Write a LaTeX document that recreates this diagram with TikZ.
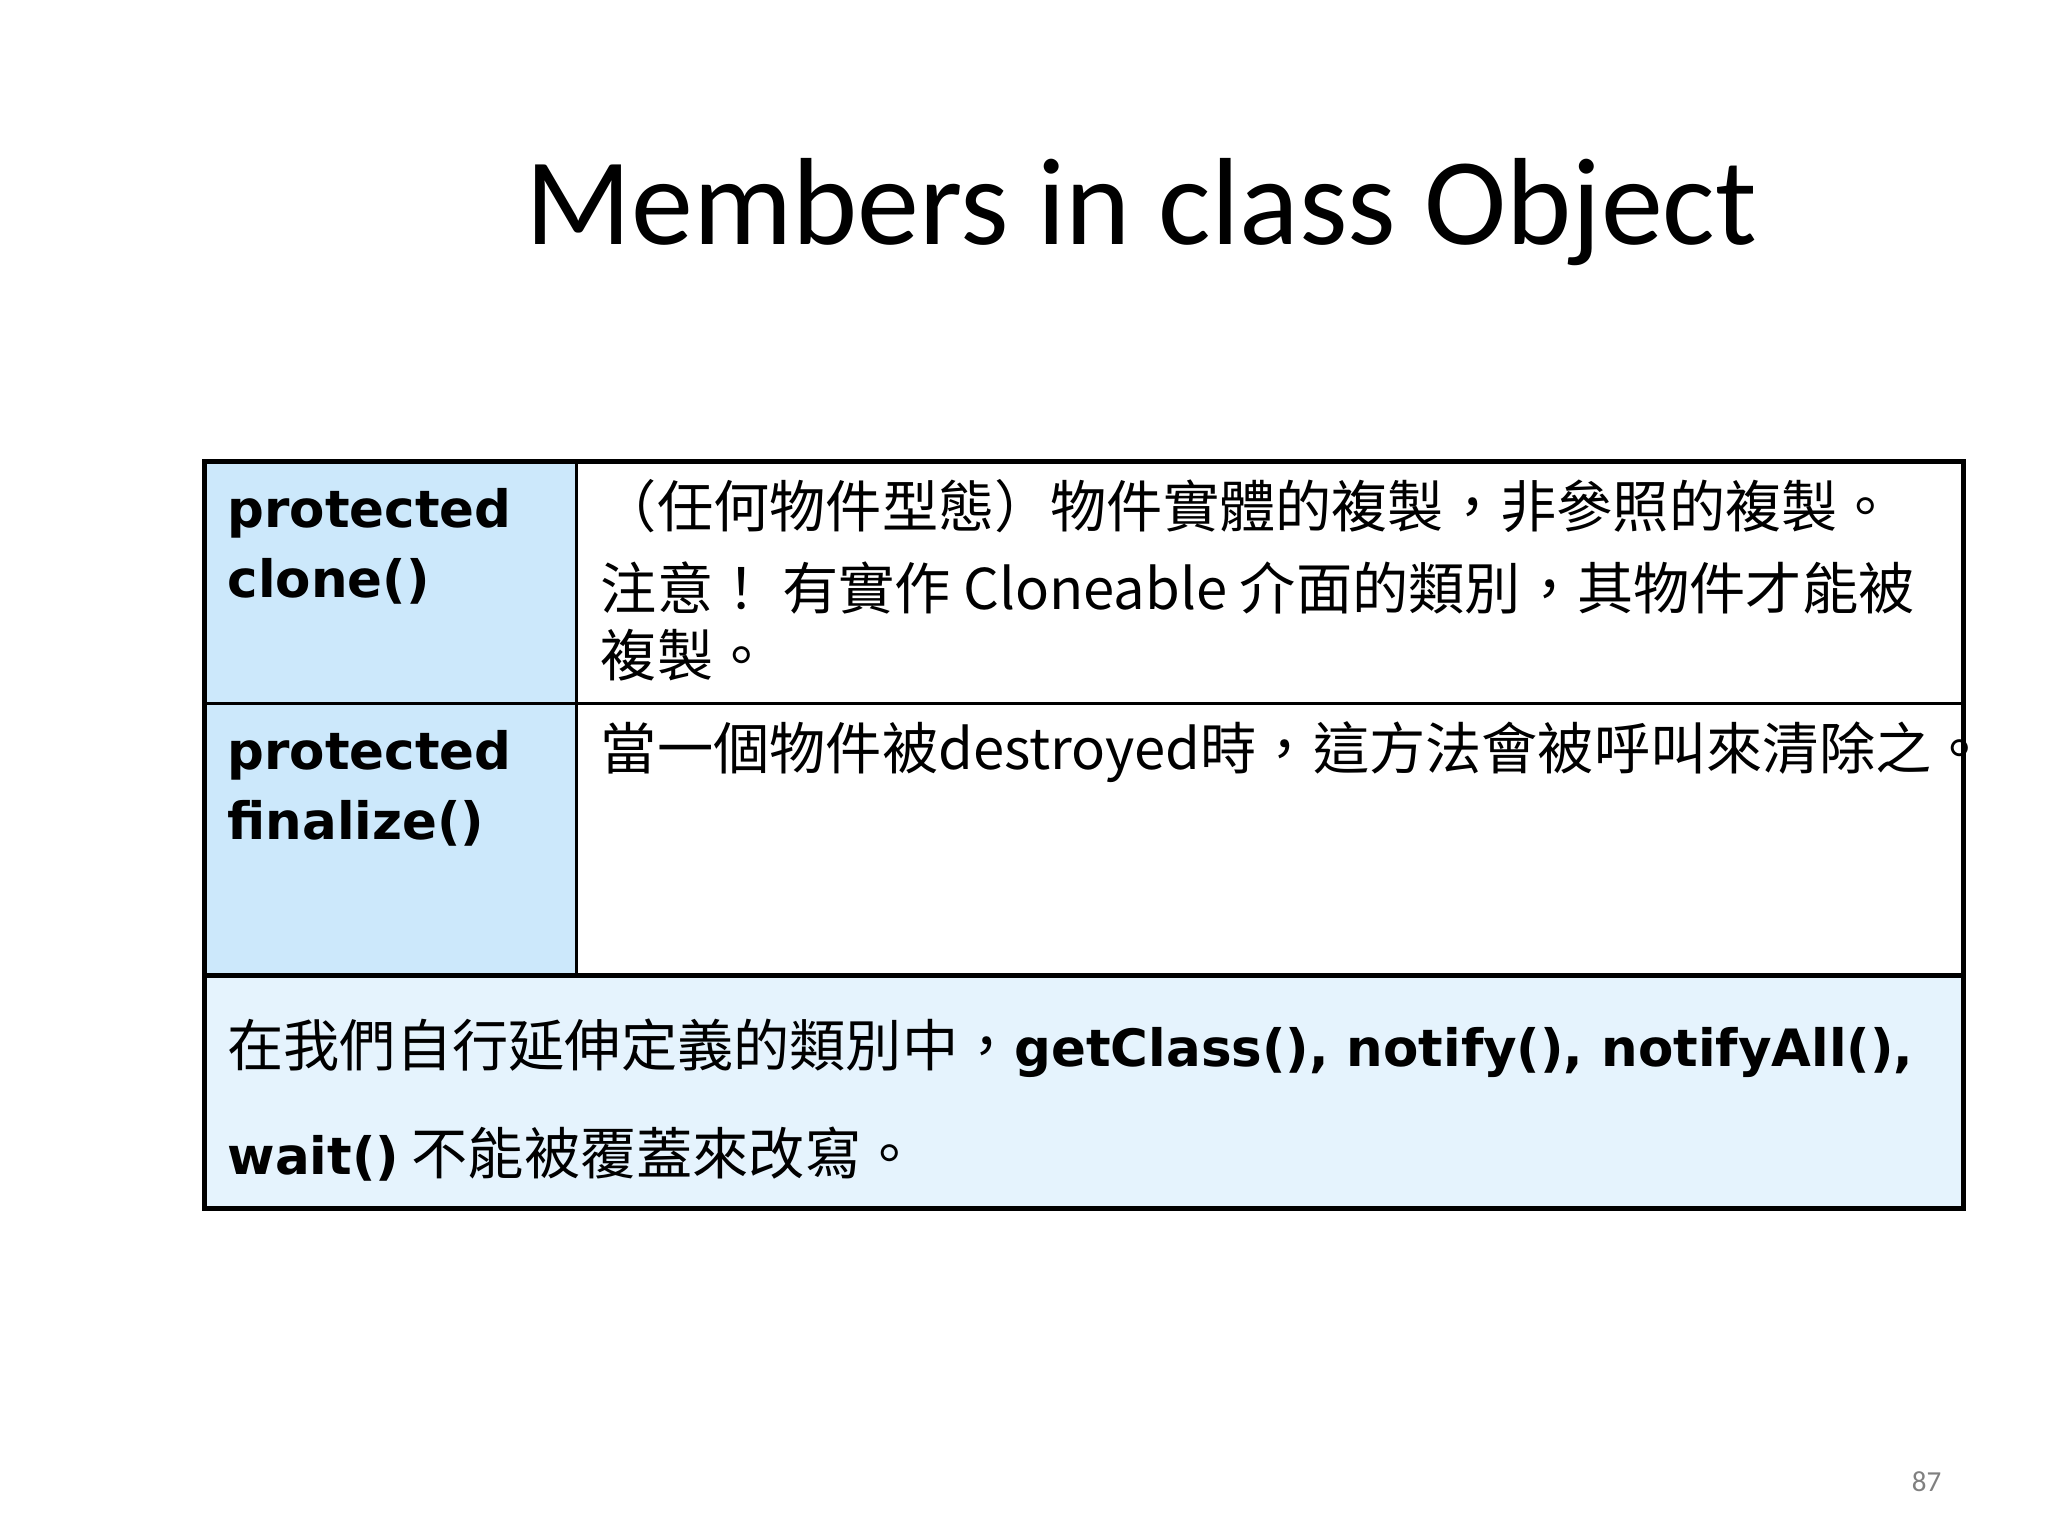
\documentclass[tikz,border=0pt]{standalone}
\usepackage{fontspec}
\setmainfont{Carlito}
\newfontfamily\cjk{Noto Sans CJK TC}
\newfontfamily\arb{DejaVu Sans}
\definecolor{cellblue}{HTML}{CCE8FB}
\definecolor{cellpale}{HTML}{E5F3FD}
\newcommand{\bfl}{\arb\bfseries\fontsize{19.5}{23}\selectfont}
\begin{document}
\begin{tikzpicture}[x=0.5pt,y=-0.5pt,
  lbl/.style={anchor=base west,inner sep=0pt,font=\bfl},
  cj/.style={anchor=base west,inner sep=0pt,font=\cjk\fontsize{21.3}{25}\selectfont}]
\useasboundingbox (0,0) rectangle (1552,1164);
\fill[cellblue] (155,350) rectangle (437,739);
\fill[cellpale] (155,739) rectangle (1488,916);
\draw[line width=1pt] (437,350) -- (437,739);
\draw[line width=1pt] (155,533) -- (1488,533);
\draw[line width=1.8pt] (155,739) -- (1488,739);
\draw[line width=1.8pt] (155,350) rectangle (1488,916);
\node[anchor=base,inner sep=0pt,font=\fontsize{47}{56}\selectfont] (title) at (865,185) {Members in class Object};
\node[lbl] (p1) at (172,400) {protected};
\node[lbl] (c1) at (172,453) {clone()};
\node[lbl] (p2) at (172,583) {protected};
\node[lbl] (f2) at (172,636) {finalize()};
\node[cj] (r1) at (455,400) {（任何物件型態）物件實體的複製，非參照的複製。};
\node[cj] (r2) at (455,462) {注意！ 有實作 Cloneable 介面的類別，其物件才能被};
\node[cj] (r3) at (455,513) {複製。};
\node[cj] (r4) at (455,583) {當一個物件被destroyed時，這方法會被呼叫來清除之。};
\node[cj] (b1) at (172,808) {在我們自行延伸定義的類別中，{\bfl getClass(), notify(), notifyAll(),}};
\node[cj] (b2) at (172,890) {{\bfl wait()} 不能被覆蓋來改寫。};
\node[anchor=base,inner sep=0pt,text=gray,font=\fontsize{11}{13}\selectfont] (pg) at (1460,1130) {87};
\end{tikzpicture}
\end{document}
